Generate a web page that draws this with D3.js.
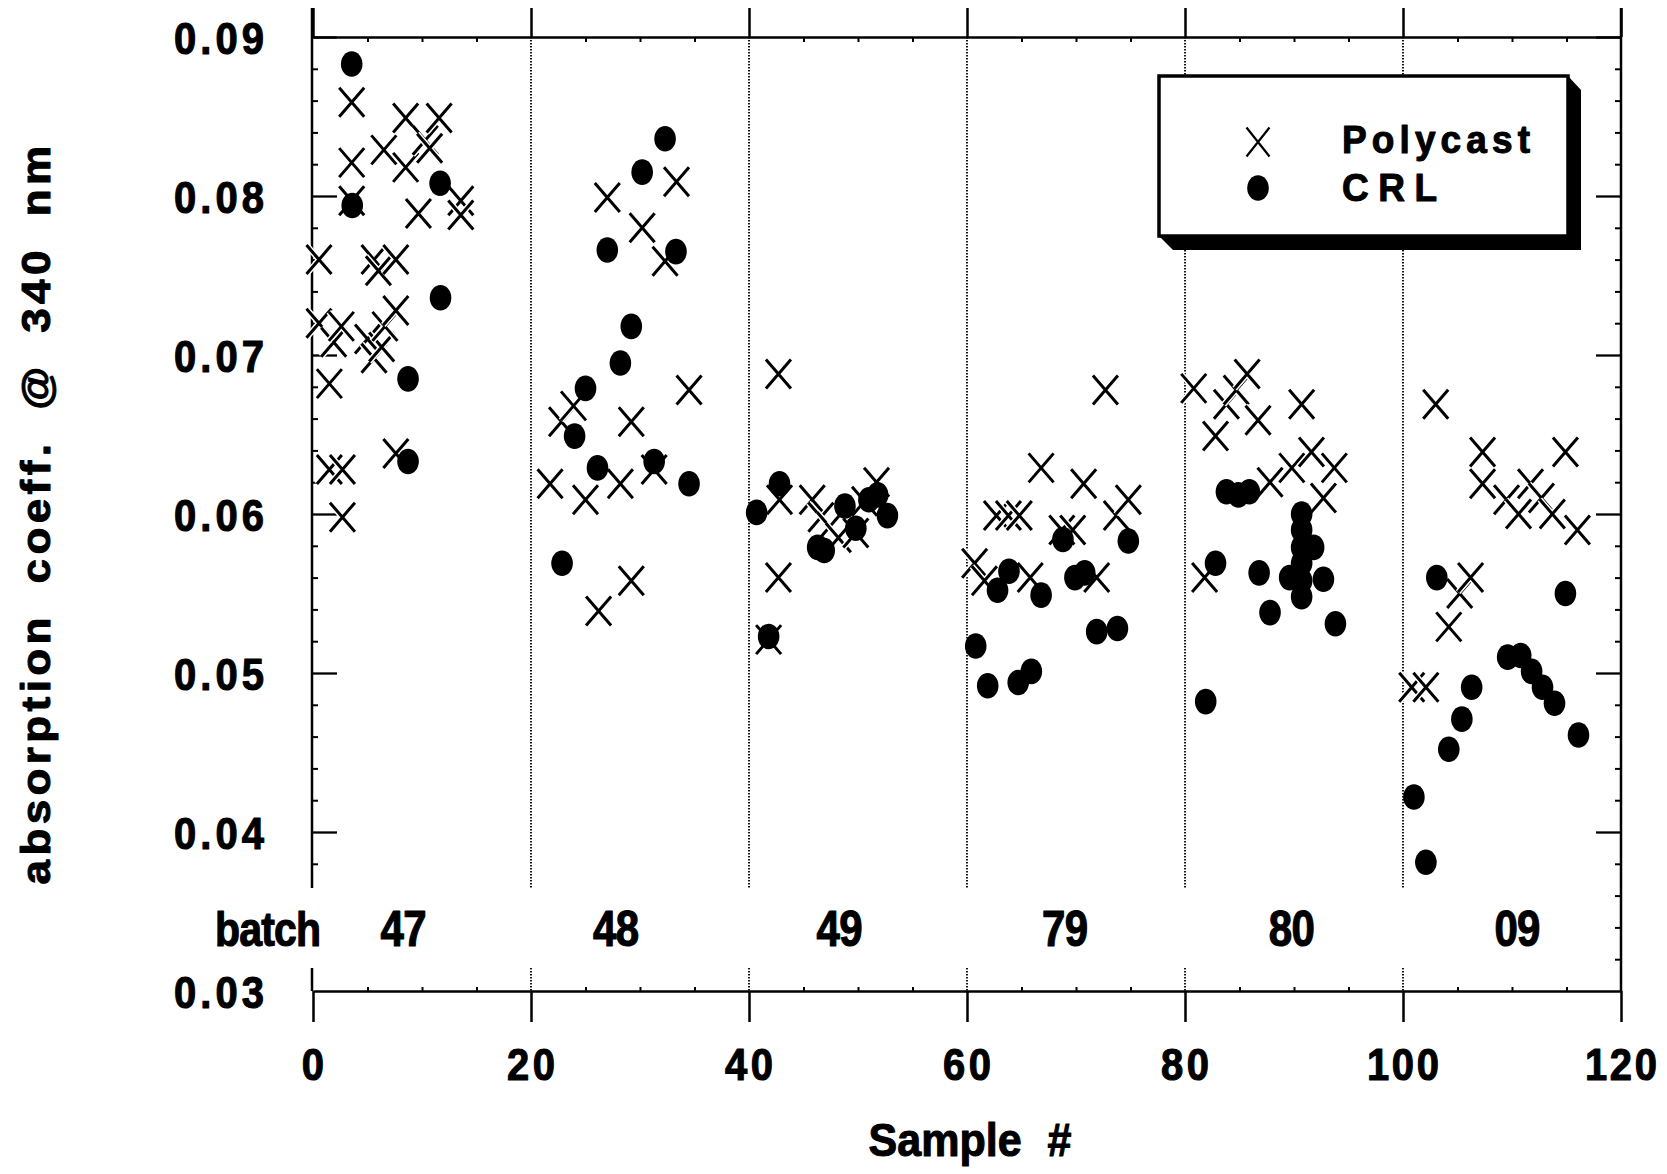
<!DOCTYPE html>
<html><head><meta charset="utf-8">
<script src="https://cdn.jsdelivr.net/npm/d3@7"></script>
<style>html,body{margin:0;padding:0;background:#fff;} svg{display:block;}</style>
</head><body>
<svg id="chart" width="1667" height="1174"></svg>
<script>
// ---------------- DATA ----------------
const polycast = [
  // batch 47
  [0.55,0.0760],[0.55,0.0720],[1.5,0.0682],[1.9,0.0708],[2.6,0.0718],[1.5,0.0628],[2.7,0.0628],[2.7,0.0598],
  [3.55,0.0859],[3.55,0.0821],[3.55,0.0797],[5.0,0.0710],[5.6,0.0760],[6.0,0.0753],[5.6,0.0698],[6.3,0.0705],[6.6,0.0718],
  [6.5,0.0829],[7.6,0.0760],[7.6,0.0728],[7.6,0.0638],[8.5,0.0849],[8.5,0.0818],[9.67,0.0789],[10.3,0.0835],
  [10.7,0.0830],[11.57,0.0849],[13.56,0.0797],[13.56,0.0788],
  // batch 48
  [21.75,0.0619],[22.8,0.0658],[23.9,0.0668],[25.0,0.0609],[26.2,0.0539],[27.0,0.0799],[28.2,0.0619],
  [29.2,0.0658],[29.2,0.0558],[30.2,0.0780],[31.3,0.0628],[32.3,0.0759],[33.35,0.0809],[34.5,0.0678],
  // batch 49
  [41.8,0.0521],[42.7,0.0688],[42.8,0.0609],[42.7,0.0560],[45.8,0.0609],[46.6,0.0598],[47.4,0.0592],
  [48.2,0.0585],[49.8,0.0588],[50.6,0.0608],[51.7,0.0620],
  // batch 79
  [60.7,0.0569],[61.6,0.0558],[62.7,0.0599],[63.8,0.0599],[64.8,0.0599],[65.8,0.0560],[66.8,0.0629],
  [68.7,0.0590],[69.7,0.0590],[70.7,0.0619],[71.9,0.0560],[72.7,0.0678],[73.7,0.0599],[74.8,0.0609],
  // batch 80
  [80.8,0.0679],[81.8,0.0560],[82.8,0.0649],[83.8,0.0669],[84.7,0.0678],[85.7,0.0688],[86.7,0.0659],
  [87.8,0.0620],[89.8,0.0629],[90.7,0.0669],[91.6,0.0639],[92.7,0.0610],[93.7,0.0629],
  // batch 09
  [100.8,0.0491],[102.1,0.0491],[103.0,0.0669],[104.2,0.0529],[105.2,0.0550],[106.2,0.0560],[107.3,0.0639],
  [107.3,0.0619],[109.5,0.0609],[110.6,0.0600],[111.7,0.0619],[112.7,0.0610],[113.7,0.0600],[114.9,0.0639],
  [116.0,0.0590]
];
const crl = [
  // batch 47
  [3.55,0.0883],[3.6,0.0794],[11.66,0.0808],[11.7,0.0736],[8.72,0.0685],[8.72,0.0633],
  // batch 48
  [22.85,0.0569],[24.0,0.0649],[25.0,0.0679],[26.1,0.0629],[27.0,0.0766],[28.2,0.0695],[29.2,0.0718],
  [30.2,0.0815],[31.3,0.0633],[32.3,0.0836],[33.3,0.0765],[34.5,0.0619],
  // batch 49
  [40.7,0.0601],[41.8,0.0523],[42.8,0.0619],[46.3,0.0579],[46.9,0.0577],[48.8,0.0605],[49.8,0.0591],
  [51.0,0.0609],[51.8,0.0612],[52.7,0.0599],
  // batch 79
  [60.8,0.0517],[61.9,0.0492],[62.8,0.0552],[63.85,0.0564],[64.7,0.0494],[65.9,0.0501],[66.8,0.0549],
  [68.8,0.0584],[69.9,0.0560],[70.8,0.0563],[71.9,0.0526],[73.8,0.0528],[74.8,0.0583],
  // batch 80
  [81.9,0.0482],[82.8,0.0569],[83.8,0.0614],[84.9,0.0612],[85.9,0.0614],[86.8,0.0563],[87.8,0.0538],
  [89.6,0.0560],[90.7,0.0600],[90.7,0.0590],[90.7,0.0579],[90.7,0.0569],[90.7,0.0558],[90.7,0.0548],
  [91.8,0.0579],[92.7,0.0559],[93.8,0.0531],
  // batch 09
  [101.0,0.0422],[102.1,0.0381],[103.1,0.0560],[104.2,0.0452],[105.4,0.0471],[106.3,0.0491],[109.6,0.0510],
  [110.8,0.0511],[111.8,0.0501],[112.8,0.0491],[113.9,0.0481],[114.9,0.0550],[116.1,0.0461]
];
const xTicks = [0,20,40,60,80,100,120];
const xTickLabels = ["0","20","40","60","80","100","120"];
const yTicks = [0.03,0.04,0.05,0.06,0.07,0.08,0.09];
const yTickLabels = ["0.03","0.04","0.05","0.06","0.07","0.08","0.09"];
const batchNames = ["47","48","49","79","80","09"];
const batchCenters = [8.3,27.8,48.3,69.0,89.8,110.5];
const batchDividers = [20,40,60,80,100];
const seriesNames = ["Polycast","CRL"];

// ---------------- LAYOUT ----------------
const svg = d3.select("#chart");
const x = d3.scaleLinear().domain([0,120]).range([313,1621]);
const y = d3.scaleLinear().domain([0.03,0.09]).range([991,37]);
const X0 = x(0), X1 = x(120), YT = y(0.09), YB = y(0.03);
const breakTop = 888, breakBot = 968, axisTop = 8;
const FONT = "'Liberation Sans', Arial, Helvetica, sans-serif";

svg.append("rect").attr("width",1667).attr("height",1174).attr("fill","#fff");

// dotted batch dividers
const grid = svg.append("g");
batchDividers.forEach(v => {
  [[YT, breakTop],[breakBot, YB]].forEach(([a,b]) => {
    grid.append("line").attr("x1",x(v)).attr("x2",x(v)).attr("y1",a).attr("y2",b)
      .attr("stroke","#000").attr("stroke-width",1.8).attr("stroke-dasharray","1.4,1.6");
  });
});

function styleAxis(g, w) {
  g.selectAll("path.domain").attr("stroke","#000").attr("stroke-width",w);
  g.selectAll(".tick line").attr("stroke","#000").attr("stroke-width",w);
  g.selectAll(".tick text").remove();
}
const xMinor = d3.range(5,120,5).filter(v => v % 20 !== 0);
const yMinor = d3.range(0,31).map(i => +(0.03 + i*0.002).toFixed(3)).filter(v => Math.round(v*1000) % 10 !== 0);

// top frame
const gTop = svg.append("g").attr("transform",`translate(0,${YT})`)
  .call(d3.axisTop(x).tickValues(xTicks).tickSize(YT-axisTop).tickSizeOuter(0));
styleAxis(gTop, 2.5);
const gTopMinor = svg.append("g").attr("transform",`translate(0,${YT})`)
  .call(d3.axisBottom(x).tickValues(xMinor).tickSize(5).tickSizeOuter(0));
styleAxis(gTopMinor, 2); gTopMinor.select("path.domain").remove();

// bottom axis
const gBot = svg.append("g").attr("transform",`translate(0,${YB})`)
  .call(d3.axisBottom(x).tickValues(xTicks).tickSize(31).tickSizeOuter(0));
styleAxis(gBot, 2.5);
const gBotMinor = svg.append("g").attr("transform",`translate(0,${YB})`)
  .call(d3.axisTop(x).tickValues(xMinor).tickSize(4).tickSizeOuter(0));
styleAxis(gBotMinor, 2); gBotMinor.select("path.domain").remove();

// left axis (broken)
const gLeft = svg.append("g").attr("transform",`translate(${X0-1},0)`)
  .call(d3.axisRight(y).tickValues(yTicks.filter(v => v > 0.035)).tickSize(25).tickSizeOuter(0));
styleAxis(gLeft, 2.3); gLeft.select("path.domain").remove();
const gLeftMinor = svg.append("g").attr("transform",`translate(${X0-1},0)`)
  .call(d3.axisRight(y).tickValues(yMinor.filter(v => y(v) < breakTop)).tickSize(6).tickSizeOuter(0));
styleAxis(gLeftMinor, 2); gLeftMinor.select("path.domain").remove();
[[axisTop, breakTop],[breakBot, YB]].forEach(([a,b]) => {
  svg.append("line").attr("x1",X0-1).attr("x2",X0-1).attr("y1",a).attr("y2",b)
    .attr("stroke","#000").attr("stroke-width",2.5);
});

// right axis
const gRight = svg.append("g").attr("transform",`translate(${X1},0)`)
  .call(d3.axisLeft(y).tickValues(yTicks.filter(v => v > 0.035)).tickSize(25).tickSizeOuter(0));
styleAxis(gRight, 2.3); gRight.select("path.domain").remove();
const gRightMinor = svg.append("g").attr("transform",`translate(${X1},0)`)
  .call(d3.axisLeft(y).tickValues(yMinor).tickSize(6).tickSizeOuter(0));
styleAxis(gRightMinor, 2); gRightMinor.select("path.domain").remove();
svg.append("line").attr("x1",X1).attr("x2",X1).attr("y1",axisTop).attr("y2",YB)
  .attr("stroke","#000").attr("stroke-width",2.5);

// text helper
function label(str, px, py, size, opts = {}) {
  const rot = opts.rotate || 0;
  const sy = opts.sy || 1.1;
  const sc = rot ? `scale(${sy},1)` : `scale(1,${sy})`;
  const t = svg.append("g").attr("transform",`translate(${px},${py}) rotate(${rot}) ${sc}`)
    .append("text").text(str)
    .attr("font-family",FONT).attr("font-weight","bold").attr("font-size",size)
    .attr("fill","#000").attr("stroke","#000").attr("stroke-width",opts.sw || 1)
    .attr("stroke-linejoin","round")
    .attr("text-anchor",opts.anchor || "start");
  if (opts.len) t.attr("textLength",opts.len).attr("lengthAdjust","spacing");
  if (opts.ws) t.attr("word-spacing",opts.ws);
  if (opts.ls) t.attr("letter-spacing",opts.ls);
  return t;
}

// y tick labels
yTicks.forEach((v,i) => label(yTickLabels[i], 264, y(v)+17, 40, {anchor:"end", len:90, sy:1.1}));
// x tick labels
xTicks.forEach((v,i) => label(xTickLabels[i], x(v), 1080, 40, {anchor:"middle", len: xTickLabels[i].length*24, sy:1.12}));
// batch labels
label("batch", 268, 946, 41, {anchor:"middle", len:106, sy:1.17});
batchNames.forEach((b,i) => label(b, x(batchCenters[i]), 946, 42, {anchor:"middle", len:46, sy:1.17}));
// axis titles
label("Sample #", 970, 1156, 43, {anchor:"middle", ws:14, sy:1.08});
label("absorption coeff. @ 340 nm", 50, 513, 40, {anchor:"middle", rotate:-90, ls:4, ws:12, sy:1.1});

// markers
const crossPath = "M-12.5,-14.5L12.5,14.5M-12.5,14.5L12.5,-14.5";
const marks = svg.append("g");
marks.selectAll("g.pc").data(polycast).join("g").attr("class","pc")
  .attr("transform", d => `translate(${x(d[0])},${y(d[1])})`)
  .each(function() {
    const g = d3.select(this);
    g.append("path").attr("d",crossPath).attr("stroke","#fff").attr("stroke-width",6).attr("fill","none");
    g.append("path").attr("d",crossPath).attr("stroke","#000").attr("stroke-width",3).attr("fill","none");
  });
marks.selectAll("ellipse.crl").data(crl).join("ellipse").attr("class","crl")
  .attr("cx", d => x(d[0])).attr("cy", d => y(d[1])).attr("rx",10.8).attr("ry",12.8).attr("fill","#000");

// legend
const lg = svg.append("g");
lg.append("polygon").attr("points","1568,76 1581,90 1581,250 1173,250 1159,236").attr("fill","#000");
lg.append("rect").attr("x",1159).attr("y",76).attr("width",409).attr("height",160)
  .attr("fill","#fff").attr("stroke","#000").attr("stroke-width",3.5);
lg.append("path").attr("d","M-11.5,-14.5L11.5,14.5M-11.5,14.5L11.5,-14.5")
  .attr("transform","translate(1258,142)").attr("stroke","#000").attr("stroke-width",2.2).attr("fill","none");
lg.append("ellipse").attr("cx",1258).attr("cy",188).attr("rx",10.8).attr("ry",12.8).attr("fill","#000");
label(seriesNames[0], 1342, 153, 37, {len:188, sy:1.05});
label(seriesNames[1], 1342, 201, 37, {len:95, sy:1.05});
</script>
</body></html>
